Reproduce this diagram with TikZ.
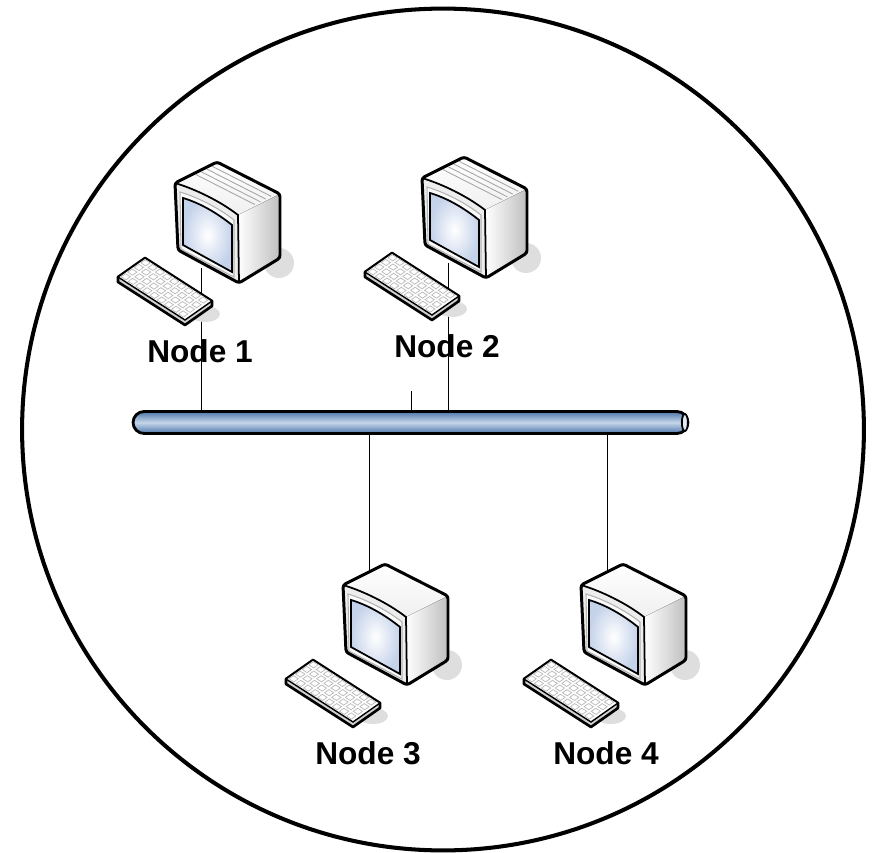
\documentclass[tikz,border=0pt]{standalone}
\usepackage{fontspec}
\setmainfont{Liberation Sans}
\usetikzlibrary{backgrounds}

\definecolor{pipeblue}{RGB}{78,118,170}
\definecolor{pipelight}{RGB}{196,214,234}
\definecolor{linkblue}{RGB}{76,76,160}
\definecolor{screenblue}{RGB}{196,210,234}
\definecolor{shadowgray}{RGB}{222,222,222}

\tikzset{
  lbl/.style={font=\fontsize{18}{20}\selectfont\bfseries, inner sep=0pt},
  link/.style={linkblue, line width=0.9pt},
  pipe/.style={draw, line width=1.6pt, rounded corners=0.22cm, minimum width=11.1cm,
    minimum height=0.44cm, inner sep=0pt, top color=pipeblue, bottom color=pipeblue,
    middle color=pipelight},
  pics/computer/.style={code={
    % shadows
    \fill[shadowgray] (104,80) ellipse [x radius=0.3cm, y radius=0.3cm];
    \fill[shadowgray] (30,131) ellipse [x radius=0.3cm, y radius=0.16cm];
    % monitor
    \fill[top color=white, bottom color=gray!12] (0,0) -- (42,-21) -- (105,11) -- (63,32) .. controls (45,18) and (20,6) .. (0,0);
    \fill[left color=white, right color=gray!50] (63,32) -- (105,11) -- (105,75) -- (64,100) -- cycle;
    \fill[gray!14] (0,0) .. controls (20,6) and (45,18) .. (63,32) -- (64,100) -- (3,67) -- cycle;
    \draw[gray!60, line width=0.6pt, fill=gray!4] (5,9) .. controls (22,14) and (44,25) .. (59,37) -- (59,94) -- (6,66) -- cycle;
    \draw[line width=1pt, inner color=white, outer color=screenblue] (8,15) .. controls (25,20) and (42,30) .. (57,42) -- (57,89) -- (8,62) -- cycle;
    \draw[line width=1.7pt, line join=round, rounded corners=1.5pt] (0,0) -- (42,-21) -- (105,11) -- (105,75) -- (64,100) -- (3,67) -- cycle;
    \draw[line width=1pt] (0,0) .. controls (20,6) and (45,18) .. (63,32) -- (64,100);
    % keyboard
    \draw[line width=1.5pt, line join=round, fill=gray!35] (-57,94) -- (-30,75) -- (37,118) -- (37,123) -- (10,142) -- (-57,99) -- cycle;
    \draw[line width=0.8pt, fill=white] (-57,94) -- (-30,75) -- (37,118) -- (10,137) -- cycle;
    \foreach \i in {0,...,8}
      \foreach \j in {0,...,3} {
        \pgfmathsetmacro\kx{-57+(\i+.2)*7.2+(\j+.25)*6.6}
        \pgfmathsetmacro\ky{94+(\i+.2)*4.65-(\j+.25)*4.65}
        \draw[gray!55, line width=0.4pt] (\kx,\ky) -- ++(4.8,3.1) -- ++(4.4,-3.1) -- ++(-4.8,-3.1) -- cycle;
      }
    \coordinate (-top) at (26,-13);
    \coordinate (-base) at (26,85);
    \node[lbl] (-label) at (25,168) {#1};
  }},
  pics/vents/.style={code={
    \foreach \t in {0.45,0.58,0.71,0.84}
      \draw[gray!70, line width=0.5pt] ({42*\t+2},{-21*\t+1}) -- ({61+42*\t},{31-21*\t});
  }}
}

\begin{document}
\begin{tikzpicture}[x=0.02cm, y=-0.02cm]
  \useasboundingbox (0,0) rectangle (877,853);
  \draw[line width=2.3pt] (443,429.5) circle [radius=8.42cm];

  % bus
  \node[pipe] (bus) at (410.5,422.5) {};
  \draw[line width=1pt, fill=pipelight!50!white] ([xshift=-0.09cm]bus.east) ellipse [x radius=0.06cm, y radius=0.17cm];

  % computers
  \pic (n1) at (175,183) {computer={Node 1}};
  \pic (n2) at (422,178) {computer={Node 2}};
  \pic (n3) at (343,585) {computer={Node 3}};
  \pic (n4) at (581,585) {computer={Node 4}};
  \pic at (175,183) {vents};
  \pic at (422,178) {vents};

  \coordinate (stub) at (411,391);
  \begin{scope}[on background layer, link]
    \draw (n1-base) -- (n1-base |- bus.north);
    \draw (n2-base) -- (n2-base |- bus.north);
    \draw (n3-top) -- (n3-top |- bus.south);
    \draw (n4-top) -- (n4-top |- bus.south);
    \draw (stub) -- (stub |- bus.north);
  \end{scope}
\end{tikzpicture}
\end{document}
